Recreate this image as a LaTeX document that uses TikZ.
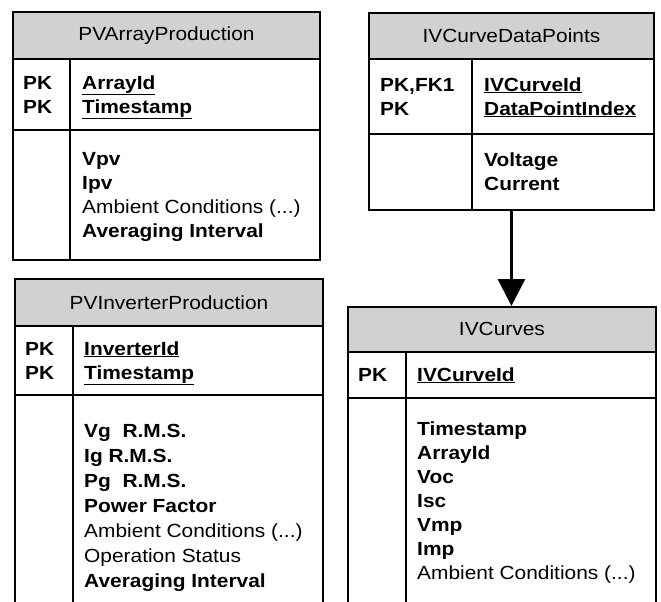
\documentclass[tikz,border=0pt]{standalone}
\usepackage{fontspec}
\setmainfont{Liberation Sans}[FakeStretch=1.1]
\usetikzlibrary{arrows.meta}
\definecolor{er_gray}{gray}{0.82}
\newcommand\ambtxt{Ambient Conditions (...)}
\tikzset{
  headbox/.style={draw, fill=er_gray, line width=1.9pt, anchor=north west, inner sep=0pt,
    font=\fontsize{19}{24}\selectfont},
  framebox/.style={draw, line width=1.9pt, anchor=north west, inner sep=0pt},
  rule/.style={line width=1.9pt},
  keytxt/.style={anchor=base west, inner sep=0pt, font=\fontsize{19}{24}\selectfont\bfseries},
  fieldtxt/.style={anchor=base west, inner sep=0pt, font=\fontsize{19}{24}\selectfont},
  fkarrow/.style={-{Triangle[width=27pt,length=27pt]}, line width=2.8pt}
}

\begin{document}
\begin{tikzpicture}[x=1pt, y=-1pt]
    % page is 661 x 602, y runs downwards
    \path[use as bounding box] (0,0) rectangle (661,602);
    \clip (0,0) rectangle (661,602);

    % PVArrayProduction
    \node[headbox, minimum width=307pt, minimum height=47pt] (arrayhead) at (12,11) {PVArrayProduction};
    \node[framebox, minimum width=307pt, minimum height=201pt] (arraybody) at (12,58) {};
    \draw[rule] (70,58) -- (70,259);
    \draw[rule] (12,130) -- (319,130);
    \node[keytxt] (arraypka) at (23,89) {PK};
    \node[keytxt] (arraypkb) at (23,113) {PK};
    \node[keytxt] (arrayid) at (82,89) {\underline{ArrayId}};
    \node[keytxt] (arrayts) at (82,113) {\underline{Timestamp}};
    \foreach \txt [count=\i from 0] in {\bfseries Vpv, \bfseries Ipv, \ambtxt, \bfseries Averaging Interval}
      \node[fieldtxt] (arrayf\i) at (82,165+24*\i) {\txt};

    % IVCurveDataPoints
    \node[headbox, minimum width=285pt, minimum height=46pt] (dphead) at (368,12) {IVCurveDataPoints};
    \node[framebox, minimum width=285pt, minimum height=151pt] (dpbody) at (368,58) {};
    \draw[rule] (472,58) -- (472,209);
    \draw[rule] (368,134) -- (653,134);
    \node[keytxt] (dppka) at (380,91) {PK,FK1};
    \node[keytxt] (dppkb) at (380,115) {PK};
    \node[keytxt] (dpcurve) at (484,91) {\underline{IVCurveId}};
    \node[keytxt] (dpindex) at (484,115) {\underline{DataPointIndex}};
    \node[keytxt] (dpvolt) at (484,166) {Voltage};
    \node[keytxt] (dpcurr) at (484,190) {Current};

    % PVInverterProduction
    \node[headbox, minimum width=308pt, minimum height=47pt] (invhead) at (14,278) {PVInverterProduction};
    \node[framebox, minimum width=308pt, minimum height=300pt] (invbody) at (14,325) {};
    \draw[rule] (73,325) -- (73,620);
    \draw[rule] (14,395) -- (322,395);
    \node[keytxt] (invpka) at (25,355) {PK};
    \node[keytxt] (invpkb) at (25,379) {PK};
    \node[keytxt] (invid) at (84,355) {\underline{InverterId}};
    \node[keytxt] (invts) at (84,379) {\underline{Timestamp}};
    \foreach \txt [count=\i from 0] in {\bfseries Vg\ \ R.M.S., \bfseries Ig R.M.S., \bfseries Pg\ \ R.M.S.,
        \bfseries Power Factor, \ambtxt, Operation Status, \bfseries Averaging Interval}
      \node[fieldtxt] (invf\i) at (84,437+25*\i) {\txt};

    % IVCurves
    \node[headbox, minimum width=308pt, minimum height=45pt] (curveshead) at (347,306) {IVCurves};
    \node[framebox, minimum width=308pt, minimum height=300pt] (curvesbody) at (347,351) {};
    \draw[rule] (406,351) -- (406,620);
    \draw[rule] (347,398) -- (655,398);
    \node[keytxt] (curvespk) at (358,381) {PK};
    \node[keytxt] (curvesid) at (417,381) {\underline{IVCurveId}};
    \foreach \txt [count=\i from 0] in {\bfseries Timestamp, \bfseries ArrayId, \bfseries Voc, \bfseries Isc,
        \bfseries Vmp, \bfseries Imp, \ambtxt}
      \node[fieldtxt] (curvesf\i) at (417,435+24*\i) {\txt};

    % data points belong to one curve
    \draw[fkarrow] (dpbody.south) -- (dpbody.south |- curveshead.north);
\end{tikzpicture}
\end{document}
